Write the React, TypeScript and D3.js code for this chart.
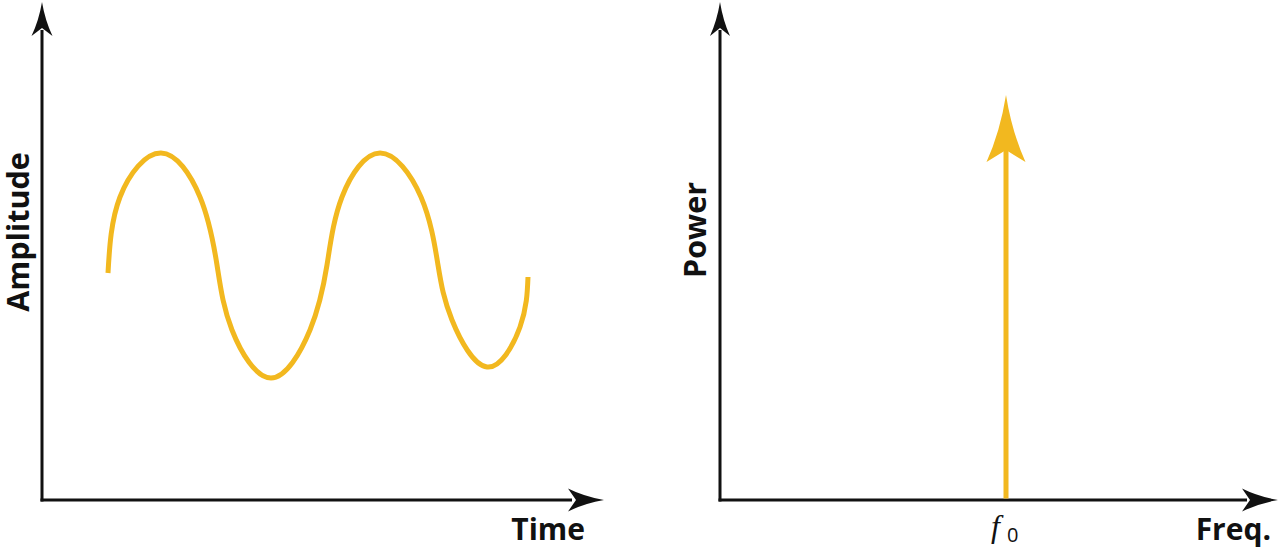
import React from "react";
import * as d3 from "d3";

// Time-domain signal
const timeValues = [0.66, 0.78, 1.19, 1.58, 1.75, 1.90, 2.29, 2.68, 2.85, 3.00, 3.38, 3.79, 3.96, 4.10, 4.45, 4.78, 4.86];
const amplitudeValues = [2.27, 3.03, 3.47, 3.03, 2.35, 1.70, 1.22, 1.70, 2.35, 3.03, 3.47, 3.03, 2.35, 1.80, 1.33, 1.73, 2.23];

// Spectrum: one line at f0
const freqValues = [2.86];
const powerValues = [4.05];
const freqLabels = ["f", "0"];

const axisLabels = { time: "Time", amplitude: "Amplitude", power: "Power", freq: "Freq." };

const W = 1280, H = 547;
const ORANGE = "#F2B81F";
const BLACK = "#111111";

function arrowHead(tipX: number, tipY: number, dx: number, dy: number, L: number, Wd: number, N: number) {
  const len = Math.hypot(dx, dy);
  const ux = dx / len, uy = dy / len;
  const vx = -uy, vy = ux;
  const p = (a: number, b: number) => [tipX + ux * a + vx * b, tipY + uy * a + vy * b];
  const tip = p(0, 0);
  const w1 = p(-L, Wd);
  const w2 = p(-L, -Wd);
  const c1 = p(-L * 0.55, Wd * 0.3);
  const c2 = p(-L * 0.55, -Wd * 0.3);
  const n = p(-N, 0);
  const path = d3.path();
  path.moveTo(tip[0], tip[1]);
  path.quadraticCurveTo(c1[0], c1[1], w1[0], w1[1]);
  path.lineTo(n[0], n[1]);
  path.lineTo(w2[0], w2[1]);
  path.quadraticCurveTo(c2[0], c2[1], tip[0], tip[1]);
  path.closePath();
  return path.toString();
}

export default function App() {
  const timeX = d3.scaleLinear().domain([0, 5.61]).range([42, 603]);
  const ampY = d3.scaleLinear().domain([0, 5]).range([500, 0]);
  const freqX = d3.scaleLinear().domain([0, 5.58]).range([720, 1278]);
  const powY = d3.scaleLinear().domain([0, 5]).range([500, 0]);

  const pts: [number, number][] = timeValues.map((t, i) => [t, amplitudeValues[i]]);
  const wave = d3
    .line<[number, number]>()
    .x((d) => timeX(d[0]))
    .y((d) => ampY(d[1]))
    .curve(d3.curveNatural)(pts) as string;

  const font = "'Open Sans', 'DejaVu Sans', sans-serif";

  const lx0 = timeX(0), ly0 = ampY(0);
  const rx0 = freqX(0), ry0 = powY(0);

  const fx = freqX(freqValues[0]);
  const fTip = powY(powerValues[0]);

  return (
    <svg width={W} height={H} style={{ position: "absolute", left: 0, top: 0, background: "#fff" }}>
      <rect width={W} height={H} fill="#fff" />
      {/* Left panel axes */}
      <line x1={lx0} y1={ly0 + 1.5} x2={lx0} y2={ampY(4.7)} stroke={BLACK} strokeWidth={3} />
      <line x1={lx0 - 1.5} y1={ly0} x2={timeX(5.3)} y2={ly0} stroke={BLACK} strokeWidth={3} />
      <path d={arrowHead(lx0, ampY(4.98), 0, -1, 34, 10.5, 26)} fill={BLACK} />
      <path d={arrowHead(timeX(5.62), ly0, 1, 0, 36, 11.5, 28)} fill={BLACK} />

      <path d={wave} fill="none" stroke={ORANGE} strokeWidth={5} strokeLinecap="butt" />

      <text x={585} y={540} textAnchor="end" fontFamily={font} fontWeight={700} fontSize={30} fill={BLACK}>
        {axisLabels.time}
      </text>
      <text
        transform={`translate(${29},${232}) rotate(-90)`}
        textAnchor="middle"
        fontFamily={font}
        fontWeight={700}
        fontSize={30.5}
        fill={BLACK}
      >
        {axisLabels.amplitude}
      </text>

      {/* Right panel axes */}
      <line x1={rx0} y1={ry0 + 1.5} x2={rx0} y2={powY(4.7)} stroke={BLACK} strokeWidth={3} />
      <line x1={rx0 - 1.5} y1={ry0} x2={freqX(5.27)} y2={ry0} stroke={BLACK} strokeWidth={3} />
      <path d={arrowHead(rx0, powY(4.98), 0, -1, 34, 10, 26)} fill={BLACK} />
      <path d={arrowHead(freqX(5.58), ry0, 1, 0, 36, 11.5, 28)} fill={BLACK} />

      {/* Spectral line */}
      <line x1={fx} y1={ry0 - 1.5} x2={fx} y2={fTip + 55} stroke={ORANGE} strokeWidth={5} />
      <path d={arrowHead(fx, fTip, 0, -1, 67, 19.5, 55)} fill={ORANGE} />

      <text x={991} y={537} fontFamily="'Liberation Serif', 'DejaVu Serif', serif" fontStyle="italic" fontSize={32} fill={BLACK}>
        {freqLabels[0]}
      </text>
      <text x={1007} y={542} fontFamily={font} fontSize={20} fill={BLACK}>
        {freqLabels[1]}
      </text>

      <text x={1271} y={540} textAnchor="end" fontFamily={font} fontWeight={700} fontSize={30} fill={BLACK}>
        {axisLabels.freq}
      </text>
      <text
        transform={`translate(${706},${230}) rotate(-90)`}
        textAnchor="middle"
        fontFamily={font}
        fontWeight={700}
        fontSize={30.5}
        fill={BLACK}
      >
        {axisLabels.power}
      </text>
    </svg>
  );
}
